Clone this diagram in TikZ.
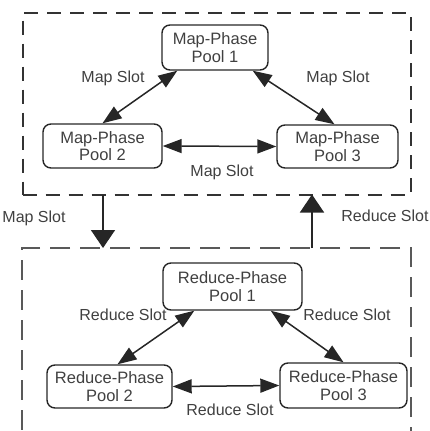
\documentclass[tikz,border=0pt]{standalone}
\usepackage{fontspec}
\setmainfont{Liberation Sans}
\usetikzlibrary{arrows.meta}

\begin{document}
\begin{tikzpicture}[x=1pt,y=-1pt,
  pool/.style={draw=black!85, line width=1.4pt, rounded corners=8pt, align=center,
    inner sep=0pt, font=\fontsize{16.5}{17.5}\selectfont, text=black!75},
  lbl/.style={font=\fontsize{16}{18}\selectfont, text=black!75, inner sep=0pt},
  link/.style={line width=1.5pt, draw=black!85, {Triangle[length=19pt,width=14pt]}-{Triangle[length=19pt,width=14pt]}},
  flow/.style={line width=1.6pt, draw=black!85, -{Triangle[length=18pt,width=24pt]}},
  mapgroup/.style={draw=black!80, line width=2pt, dash pattern=on 14pt off 9pt},
  redgroup/.style={draw=black!65, line width=1.3pt, dash pattern=on 20pt off 10pt}]
\useasboundingbox (0,0) rectangle (430,431);
\clip (0,0) rectangle (430,431);

% map-phase group
\node[mapgroup, minimum width=388pt, minimum height=182pt, inner sep=0pt] (mapbox) at (216.5,103.5) {};
\node[pool, minimum width=106pt, minimum height=45pt] (mp1) at (215,47.5) {Map-Phase\\Pool 1};
\node[pool, minimum width=119pt, minimum height=44pt] (mp2) at (102.5,146) {Map-Phase\\Pool 2};
\node[pool, minimum width=121pt, minimum height=43pt] (mp3) at (337.5,146.5) {Map-Phase\\Pool 3};

\draw[link] ([xshift=16pt]mp1.south west) -- (mp2.north);
\draw[link] ([xshift=-16pt]mp1.south east) -- ([xshift=-3pt]mp3.north);
\draw[link] (mp2.east) -- (mp3.west);

\node[lbl] (ms1) at (113,78) {Map Slot};
\node[lbl] (ms2) at (338,78) {Map Slot};
\node[lbl] (ms3) at (222,172) {Map Slot};

% reduce-phase group (open below the page edge)
\node[redgroup, minimum width=389pt, minimum height=230pt, inner sep=0pt] (redbox) at (216.5,363) {};
\node[pool, minimum width=139pt, minimum height=47pt] (rp1) at (232.5,286.5) {Reduce-Phase\\Pool 1};
\node[pool, minimum width=125pt, minimum height=43pt] (rp2) at (109.5,386.5) {Reduce-Phase\\Pool 2};
\node[pool, minimum width=127pt, minimum height=45pt] (rp3) at (343.5,385.5) {Reduce-Phase\\Pool 3};

\draw[link] ([xshift=32pt]rp1.south west) -- ([xshift=8pt]rp2.north);
\draw[link] ([xshift=-32pt]rp1.south east) -- (rp3.north);
\draw[link] (rp2.east) -- (rp3.west);

\node[lbl] (rs1) at (123,315) {Reduce Slot};
\node[lbl] (rs2) at (347,315) {Reduce Slot};
\node[lbl] (rs3) at (230,410) {Reduce Slot};

% slots handed between the two groups
\coordinate (downfrom) at (103,194.5);
\coordinate (downto) at (103,248);
\coordinate (upfrom) at (312,248);
\coordinate (upto) at (312,194.5);
\draw[flow] (downfrom) -- (downto);
\draw[flow] (upfrom) -- (upto);
\node[lbl] (mslot) at (34,218) {Map Slot};
\node[lbl] (rslot) at (385,216) {Reduce Slot};
\end{tikzpicture}
\end{document}
